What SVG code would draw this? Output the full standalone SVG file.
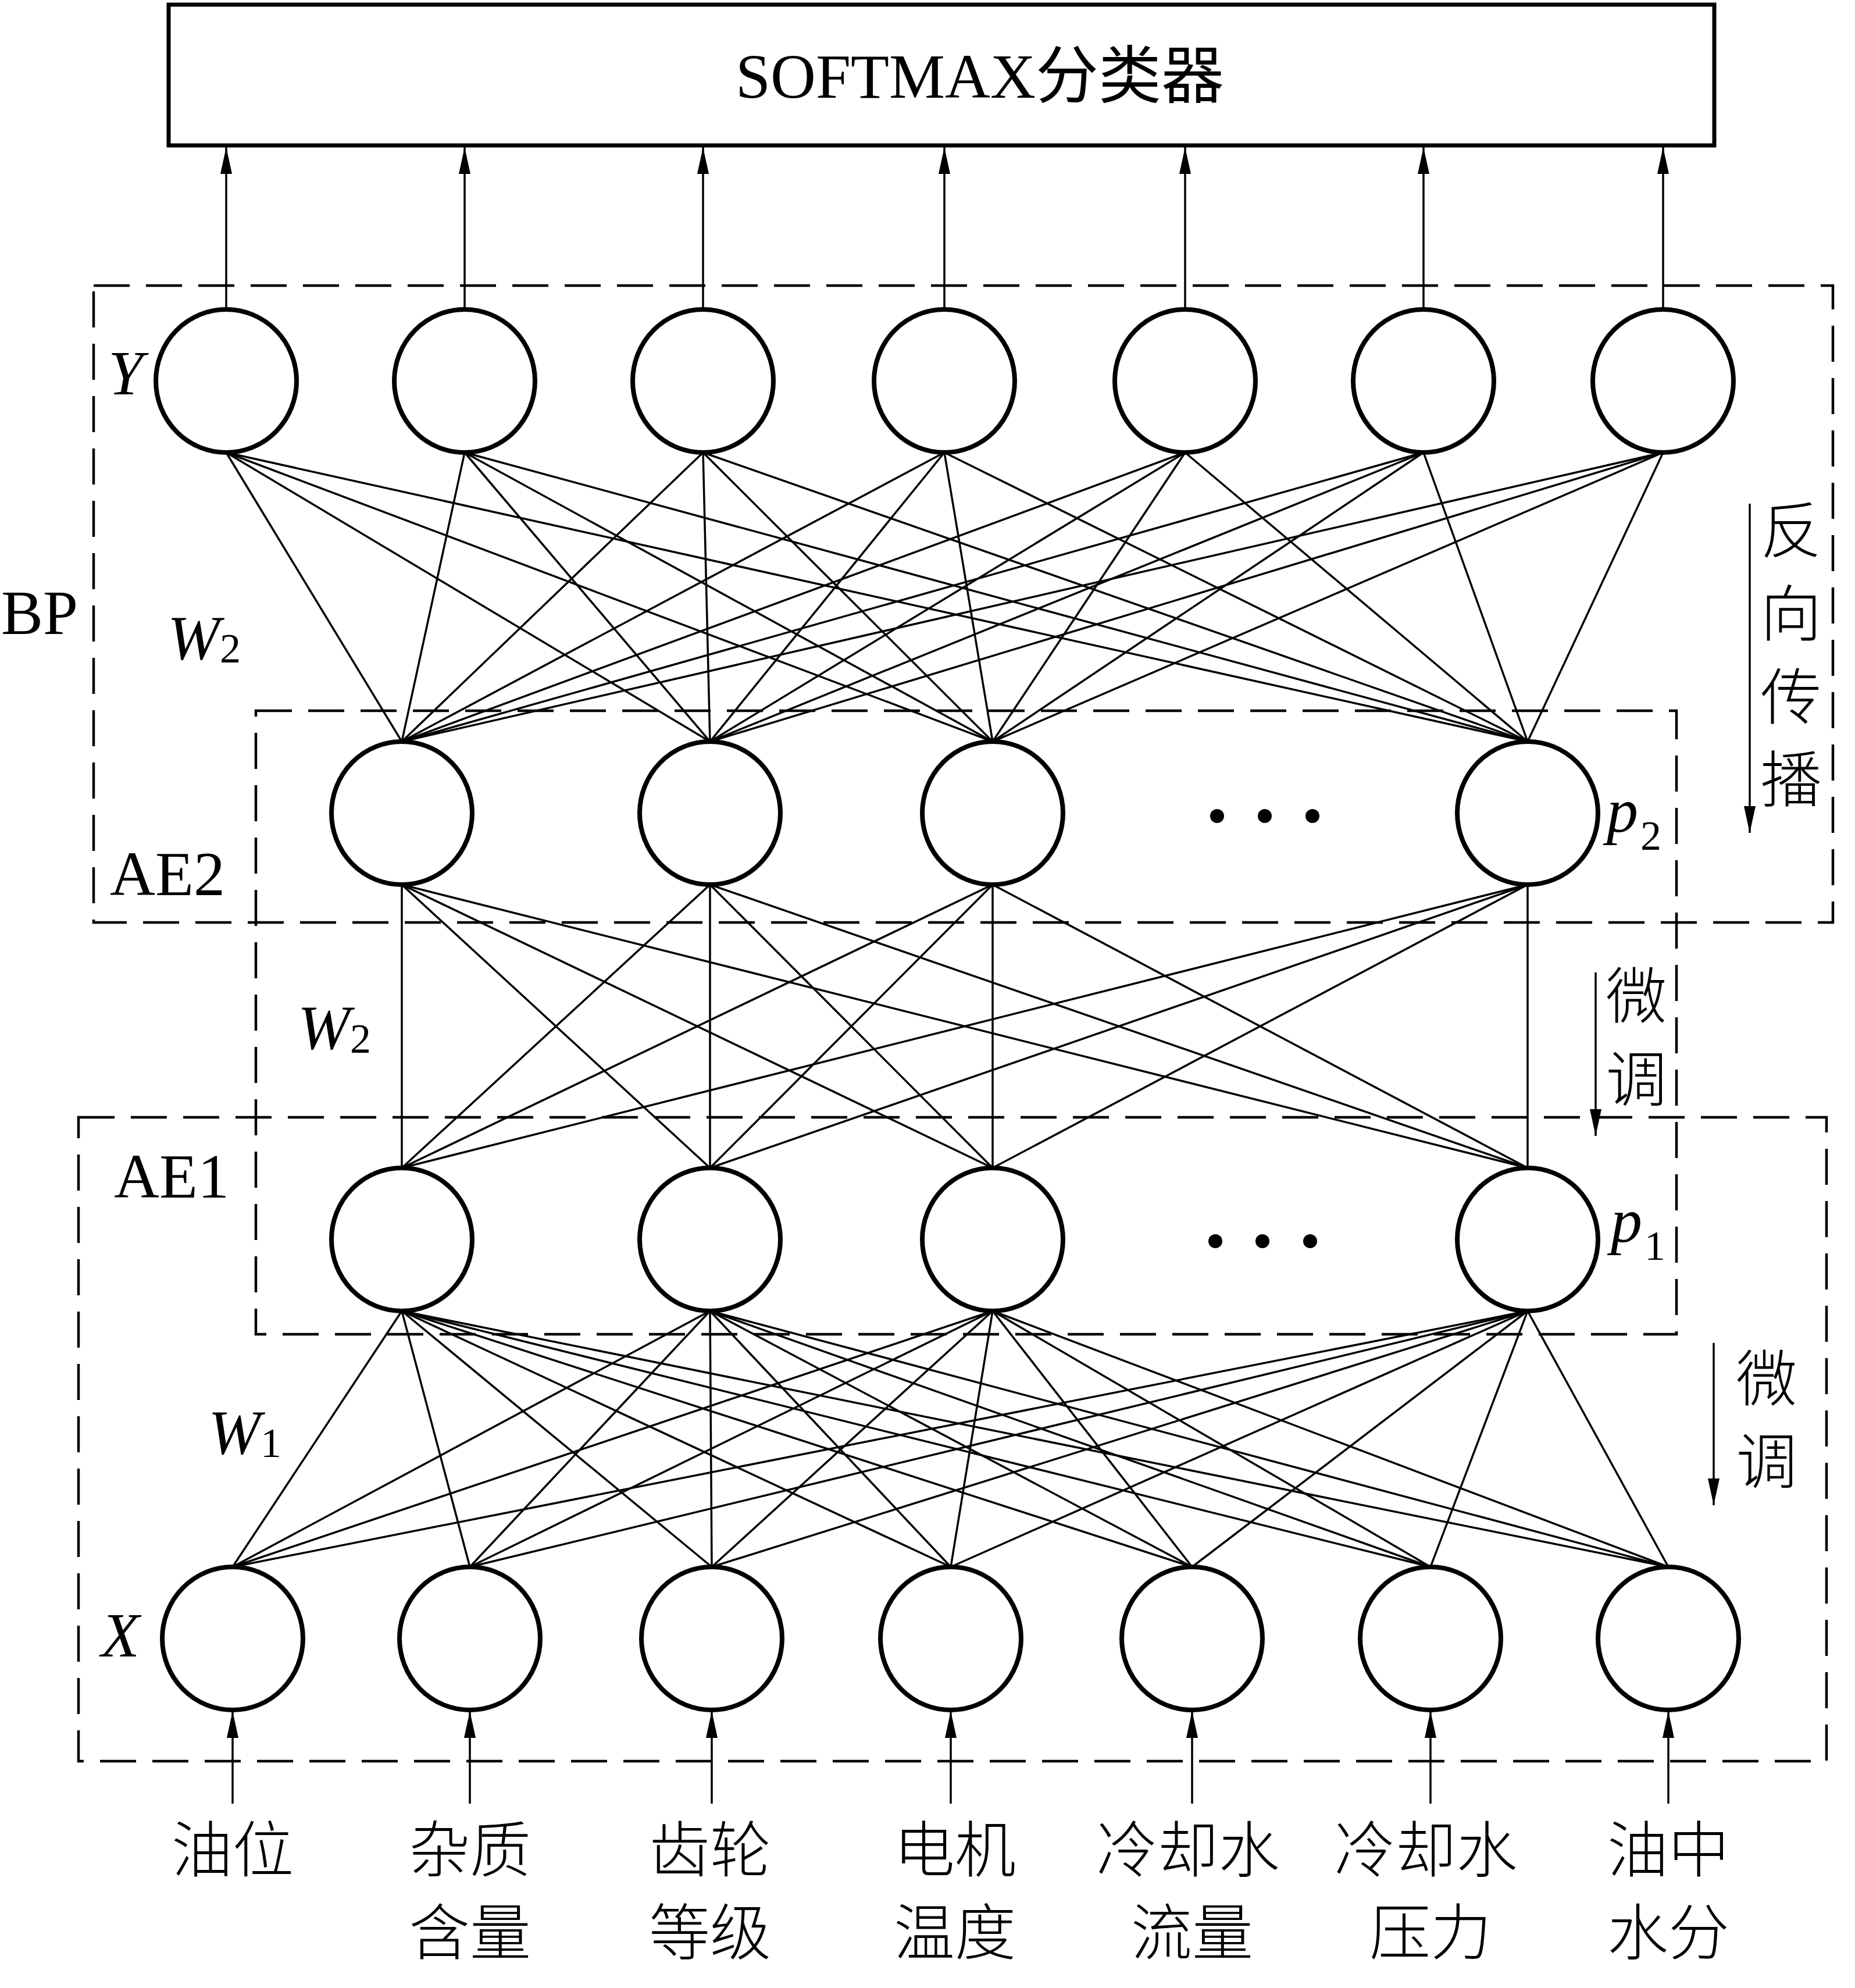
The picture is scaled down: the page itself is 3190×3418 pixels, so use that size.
<svg xmlns="http://www.w3.org/2000/svg" width="3190" height="3418" viewBox="0 0 3190 3418">
<style>
.node{fill:#fff;stroke:#000;stroke-width:8}
.edge line{stroke:#000;stroke-width:3.5}
.arr{stroke:#000;stroke-width:3.5;marker-end:url(#ah)}
.dash{fill:none;stroke:#000;stroke-width:4.5;stroke-dasharray:62 28}
.lat{font-family:"Liberation Serif","Noto Sans CJK SC",serif;font-size:108px;fill:#000}
.it{font-style:italic}
.sub{font-style:normal;font-size:72px}
.cjk{font-family:"Noto Sans CJK SC",sans-serif;font-size:105px;font-weight:300;fill:#000;text-anchor:middle}
.dot{fill:#000}
</style>
<defs>
<marker id="ah" viewBox="0 0 46 20" refX="46" refY="10" markerWidth="46" markerHeight="20" markerUnits="userSpaceOnUse" orient="auto">
<path d="M0,0 L46,10 L0,20 z" fill="#000"/>
</marker>
</defs>
<rect width="3190" height="3418" fill="#fff"/>

<g id="boxes">
<rect id="bp-box" class="dash" x="161" y="491" width="2991" height="1095"/>
<rect id="ae2-box" class="dash" x="440" y="1222" width="2443" height="1072"/>
<rect id="ae1-box" class="dash" x="135" y="1921" width="3006" height="1107"/>
</g>

<g id="softmax">
<rect x="290" y="8" width="2658" height="242" fill="#fff" stroke="#000" stroke-width="7"/>
<text class="lat" x="1265" y="168" font-size="110">SOFTMAX分类器</text>
</g>

<g id="connectors" class="edge">
<line class="arr" x1="389" y1="532" x2="389" y2="253"/>
<line class="arr" x1="799" y1="532" x2="799" y2="253"/>
<line class="arr" x1="1209" y1="532" x2="1209" y2="253"/>
<line class="arr" x1="1624" y1="532" x2="1624" y2="253"/>
<line class="arr" x1="2038" y1="532" x2="2038" y2="253"/>
<line class="arr" x1="2448" y1="532" x2="2448" y2="253"/>
<line class="arr" x1="2860" y1="532" x2="2860" y2="253"/>

<line x1="389" y1="778" x2="691" y2="1275"/><line x1="389" y1="778" x2="1221" y2="1275"/><line x1="389" y1="778" x2="1707" y2="1275"/><line x1="389" y1="778" x2="2627" y2="1275"/>
<line x1="799" y1="778" x2="691" y2="1275"/><line x1="799" y1="778" x2="1221" y2="1275"/><line x1="799" y1="778" x2="1707" y2="1275"/><line x1="799" y1="778" x2="2627" y2="1275"/>
<line x1="1209" y1="778" x2="691" y2="1275"/><line x1="1209" y1="778" x2="1221" y2="1275"/><line x1="1209" y1="778" x2="1707" y2="1275"/><line x1="1209" y1="778" x2="2627" y2="1275"/>
<line x1="1624" y1="778" x2="691" y2="1275"/><line x1="1624" y1="778" x2="1221" y2="1275"/><line x1="1624" y1="778" x2="1707" y2="1275"/><line x1="1624" y1="778" x2="2627" y2="1275"/>
<line x1="2038" y1="778" x2="691" y2="1275"/><line x1="2038" y1="778" x2="1221" y2="1275"/><line x1="2038" y1="778" x2="1707" y2="1275"/><line x1="2038" y1="778" x2="2627" y2="1275"/>
<line x1="2448" y1="778" x2="691" y2="1275"/><line x1="2448" y1="778" x2="1221" y2="1275"/><line x1="2448" y1="778" x2="1707" y2="1275"/><line x1="2448" y1="778" x2="2627" y2="1275"/>
<line x1="2860" y1="778" x2="691" y2="1275"/><line x1="2860" y1="778" x2="1221" y2="1275"/><line x1="2860" y1="778" x2="1707" y2="1275"/><line x1="2860" y1="778" x2="2627" y2="1275"/>

<line x1="691" y1="1521" x2="691" y2="2008"/><line x1="691" y1="1521" x2="1221" y2="2008"/><line x1="691" y1="1521" x2="1707" y2="2008"/><line x1="691" y1="1521" x2="2627" y2="2008"/>
<line x1="1221" y1="1521" x2="691" y2="2008"/><line x1="1221" y1="1521" x2="1221" y2="2008"/><line x1="1221" y1="1521" x2="1707" y2="2008"/><line x1="1221" y1="1521" x2="2627" y2="2008"/>
<line x1="1707" y1="1521" x2="691" y2="2008"/><line x1="1707" y1="1521" x2="1221" y2="2008"/><line x1="1707" y1="1521" x2="1707" y2="2008"/><line x1="1707" y1="1521" x2="2627" y2="2008"/>
<line x1="2627" y1="1521" x2="691" y2="2008"/><line x1="2627" y1="1521" x2="1221" y2="2008"/><line x1="2627" y1="1521" x2="1707" y2="2008"/><line x1="2627" y1="1521" x2="2627" y2="2008"/>

<line x1="691" y1="2254" x2="400" y2="2694"/><line x1="691" y1="2254" x2="808" y2="2694"/><line x1="691" y1="2254" x2="1224" y2="2694"/><line x1="691" y1="2254" x2="1635" y2="2694"/><line x1="691" y1="2254" x2="2050" y2="2694"/><line x1="691" y1="2254" x2="2460" y2="2694"/><line x1="691" y1="2254" x2="2869" y2="2694"/>
<line x1="1221" y1="2254" x2="400" y2="2694"/><line x1="1221" y1="2254" x2="808" y2="2694"/><line x1="1221" y1="2254" x2="1224" y2="2694"/><line x1="1221" y1="2254" x2="1635" y2="2694"/><line x1="1221" y1="2254" x2="2050" y2="2694"/><line x1="1221" y1="2254" x2="2460" y2="2694"/><line x1="1221" y1="2254" x2="2869" y2="2694"/>
<line x1="1707" y1="2254" x2="400" y2="2694"/><line x1="1707" y1="2254" x2="808" y2="2694"/><line x1="1707" y1="2254" x2="1224" y2="2694"/><line x1="1707" y1="2254" x2="1635" y2="2694"/><line x1="1707" y1="2254" x2="2050" y2="2694"/><line x1="1707" y1="2254" x2="2460" y2="2694"/><line x1="1707" y1="2254" x2="2869" y2="2694"/>
<line x1="2627" y1="2254" x2="400" y2="2694"/><line x1="2627" y1="2254" x2="808" y2="2694"/><line x1="2627" y1="2254" x2="1224" y2="2694"/><line x1="2627" y1="2254" x2="1635" y2="2694"/><line x1="2627" y1="2254" x2="2050" y2="2694"/><line x1="2627" y1="2254" x2="2460" y2="2694"/><line x1="2627" y1="2254" x2="2869" y2="2694"/>

<line class="arr" x1="400" y1="3101" x2="400" y2="2942"/>
<line class="arr" x1="808" y1="3101" x2="808" y2="2942"/>
<line class="arr" x1="1224" y1="3101" x2="1224" y2="2942"/>
<line class="arr" x1="1635" y1="3101" x2="1635" y2="2942"/>
<line class="arr" x1="2050" y1="3101" x2="2050" y2="2942"/>
<line class="arr" x1="2460" y1="3101" x2="2460" y2="2942"/>
<line class="arr" x1="2869" y1="3101" x2="2869" y2="2942"/>

<line class="arr" x1="3009" y1="866" x2="3009" y2="1432"/>
<line class="arr" x1="2744" y1="1672" x2="2744" y2="1953"/>
<line class="arr" x1="2947" y1="2309" x2="2947" y2="2588"/>
</g>

<g id="output-layer">
<g id="y1"><ellipse class="node" cx="389" cy="655" rx="121" ry="123"/></g>
<g id="y2"><ellipse class="node" cx="799" cy="655" rx="121" ry="123"/></g>
<g id="y3"><ellipse class="node" cx="1209" cy="655" rx="121" ry="123"/></g>
<g id="y4"><ellipse class="node" cx="1624" cy="655" rx="121" ry="123"/></g>
<g id="y5"><ellipse class="node" cx="2038" cy="655" rx="121" ry="123"/></g>
<g id="y6"><ellipse class="node" cx="2448" cy="655" rx="121" ry="123"/></g>
<g id="y7"><ellipse class="node" cx="2860" cy="655" rx="121" ry="123"/></g>
</g>

<g id="hidden2-layer">
<g id="h2-1"><ellipse class="node" cx="691" cy="1398" rx="121" ry="123"/></g>
<g id="h2-2"><ellipse class="node" cx="1221" cy="1398" rx="121" ry="123"/></g>
<g id="h2-3"><ellipse class="node" cx="1707" cy="1398" rx="121" ry="123"/></g>
<g id="h2-p2"><ellipse class="node" cx="2627" cy="1398" rx="121" ry="123"/></g>
<g id="h2-dots"><circle class="dot" cx="2093" cy="1403" r="12"/><circle class="dot" cx="2175" cy="1403" r="12"/><circle class="dot" cx="2257" cy="1403" r="12"/></g>
</g>

<g id="hidden1-layer">
<g id="h1-1"><ellipse class="node" cx="691" cy="2131" rx="121" ry="123"/></g>
<g id="h1-2"><ellipse class="node" cx="1221" cy="2131" rx="121" ry="123"/></g>
<g id="h1-3"><ellipse class="node" cx="1707" cy="2131" rx="121" ry="123"/></g>
<g id="h1-p1"><ellipse class="node" cx="2627" cy="2131" rx="121" ry="123"/></g>
<g id="h1-dots"><circle class="dot" cx="2090" cy="2134" r="12"/><circle class="dot" cx="2171" cy="2134" r="12"/><circle class="dot" cx="2253" cy="2134" r="12"/></g>
</g>

<g id="input-layer">
<g id="x1"><ellipse class="node" cx="400" cy="2817" rx="121" ry="123"/></g>
<g id="x2"><ellipse class="node" cx="808" cy="2817" rx="121" ry="123"/></g>
<g id="x3"><ellipse class="node" cx="1224" cy="2817" rx="121" ry="123"/></g>
<g id="x4"><ellipse class="node" cx="1635" cy="2817" rx="121" ry="123"/></g>
<g id="x5"><ellipse class="node" cx="2050" cy="2817" rx="121" ry="123"/></g>
<g id="x6"><ellipse class="node" cx="2460" cy="2817" rx="121" ry="123"/></g>
<g id="x7"><ellipse class="node" cx="2869" cy="2817" rx="121" ry="123"/></g>
</g>

<g id="labels">
<text class="lat it" x="186" y="678">Y</text>
<text class="lat" x="2" y="1090">BP</text>
<text class="lat it" x="288" y="1133">W<tspan class="sub" dy="6">2</tspan></text>
<text class="lat" x="189" y="1539">AE2</text>
<text class="lat it" x="512" y="1803">W<tspan class="sub" dy="7">2</tspan></text>
<text class="lat" x="196" y="2059">AE1</text>
<text class="lat it" x="358" y="2499">W<tspan class="sub" dy="6">1</tspan></text>
<text class="lat it" x="174" y="2848">X</text>
<text class="lat it" x="2763" y="1430">p<tspan class="sub" dx="4" dy="31">2</tspan></text>
<text class="lat it" x="2770" y="2135">p<tspan class="sub" dx="4" dy="31">1</tspan></text>

<text class="cjk" x="3080" y="950">反</text>
<text class="cjk" x="3080" y="1093">向</text>
<text class="cjk" x="3080" y="1236">传</text>
<text class="cjk" x="3080" y="1378">播</text>
<text class="cjk" x="2814" y="1750">微</text>
<text class="cjk" x="2814" y="1893">调</text>
<text class="cjk" x="3038" y="2408">微</text>
<text class="cjk" x="3038" y="2550">调</text>

<text class="cjk" x="400" y="3218">油位</text>
<text class="cjk" x="808" y="3218">杂质</text>
<text class="cjk" x="808" y="3360">含量</text>
<text class="cjk" x="1221" y="3218">齿轮</text>
<text class="cjk" x="1221" y="3360">等级</text>
<text class="cjk" x="1642" y="3218">电机</text>
<text class="cjk" x="1642" y="3360">温度</text>
<text class="cjk" x="2043" y="3218">冷却水</text>
<text class="cjk" x="2050" y="3360">流量</text>
<text class="cjk" x="2452" y="3218">冷却水</text>
<text class="cjk" x="2460" y="3360">压力</text>
<text class="cjk" x="2869" y="3218">油中</text>
<text class="cjk" x="2869" y="3360">水分</text>
</g>
</svg>
